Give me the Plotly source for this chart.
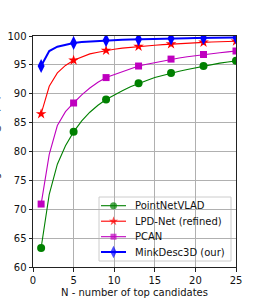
import plotly.graph_objects as go

N = list(range(1, 26))
pointnetvlad = [63.3, 72.6, 77.8, 81.0, 83.4, 85.3, 86.8, 88.0, 89.0, 89.8, 90.5, 91.2, 91.8,
                92.3, 92.8, 93.2, 93.6, 93.9, 94.2, 94.5, 94.8, 95.05, 95.3, 95.5, 95.7]
lpdnet = [86.5, 91.3, 93.6, 94.9, 95.8, 96.4, 96.9, 97.2, 97.5, 97.7, 97.9, 98.05, 98.2,
          98.3, 98.4, 98.5, 98.6, 98.7, 98.75, 98.85, 98.9, 98.95, 99.0, 99.05, 99.1]
pcan = [70.9, 79.5, 84.5, 86.9, 88.4, 89.8, 91.0, 92.0, 92.8, 93.3, 93.8, 94.3, 94.8,
        95.1, 95.4, 95.7, 96.0, 96.2, 96.4, 96.6, 96.8, 96.95, 97.1, 97.25, 97.4]
minkdesc = [94.8, 97.4, 98.15, 98.5, 98.8, 98.95, 99.05, 99.15, 99.25, 99.3, 99.35, 99.4, 99.45,
            99.5, 99.52, 99.55, 99.58, 99.6, 99.62, 99.65, 99.67, 99.7, 99.72, 99.74, 99.75]

series = [
    ("PointNetVLAD", pointnetvlad, "#008000", "circle", 8, 1.1),
    ("LPD-Net (refined)", lpdnet, "#ff0000", "star", 8, 1.1),
    ("PCAN", pcan, "#bf00bf", "square", 7, 1.1),
    ("MinkDesc3D (our)", minkdesc, "#0000ff", "diamond-tall", 10, 2.0),
]

W, H = 262, 300
ML, MR, MT, MB = 33, 26, 36, 33
PW, PH = W - ML - MR, H - MT - MB


def px_x(p):
    return (p - ML) / PW


def px_y(p):
    return (H - MB - p) / PH


fig = go.Figure()
for name, ys, col, sym, ms, lw in series:
    fig.add_trace(go.Scatter(x=N, y=ys, mode="lines", line=dict(color=col, width=lw),
                             showlegend=False, hoverinfo="skip"))
    fig.add_trace(go.Scatter(x=N[::4], y=ys[::4], mode="markers", name=name,
                             marker=dict(color=col, symbol=sym, size=ms, line=dict(width=0)),
                             showlegend=False))

# manual legend (matplotlib-like compact layout)
legend_rows = [205.7, 221.2, 236.7, 252.0]
lx0, lx1, lm, ltext = px_x(101), px_x(126), px_x(113.5), px_x(133)
fig.add_shape(type="rect", xref="paper", yref="paper",
              x0=px_x(99), x1=px_x(231), y0=px_y(261), y1=px_y(197),
              line=dict(color="#cccccc", width=1), fillcolor="rgba(255,255,255,0.8)",
              layer="between")
for (name, ys, col, sym, ms, lw), ry in zip(series, legend_rows):
    yy = px_y(ry)
    fig.add_trace(go.Scatter(x=[lx0, lm, lx1], y=[yy, yy, yy], xaxis="x2", yaxis="y2",
                             mode="lines+markers", line=dict(color=col, width=lw),
                             marker=dict(color=col, symbol=sym, size=[0, ms - 1, 0], line=dict(width=0)),
                             showlegend=False, hoverinfo="skip", cliponaxis=False))
    fig.add_annotation(text=name, xref="paper", yref="paper", x=ltext, y=yy,
                       xanchor="left", yanchor="middle", showarrow=False,
                       font=dict(size=10, color="#111111"))

axis_common = dict(showline=True, linecolor="#222222", linewidth=1, mirror=True,
                   showgrid=True, gridcolor="#b0b0b0", gridwidth=0.8,
                   ticks="outside", ticklen=3.5, tickwidth=0.8, tickcolor="#222222",
                   zeroline=False, tickfont=dict(size=10, color="#111111"), automargin=False)

fig.update_layout(
    xaxis=dict(range=[0, 25], tickvals=[0, 5, 10, 15, 20, 25],
               title=dict(text="N - number of top candidates", font=dict(size=10, color="#111111"),
                          standoff=4),
               **axis_common),
    yaxis=dict(range=[60, 100], tickvals=[60, 65, 70, 75, 80, 85, 90, 95, 100], **axis_common),
    xaxis2=dict(overlaying="x", range=[0, 1], visible=False, anchor="y2"),
    yaxis2=dict(overlaying="y", range=[0, 1], visible=False, anchor="x2"),
    width=W, height=H,
    margin=dict(l=ML, r=MR, t=MT, b=MB),
    paper_bgcolor="white", plot_bgcolor="white",
    font=dict(family="DejaVu Sans", size=10, color="#111111"),
    showlegend=False,
)

# y-axis title: in the reference it lies almost entirely beyond the left edge
fig.add_annotation(text="Average Recall@N (%)", textangle=-90, xref="paper", yref="paper",
                   x=px_x(2.5), y=0.5, xanchor="right", yanchor="middle", showarrow=False,
                   font=dict(size=10, color="#111111"))

fig.write_html("out.html", config={"displayModeBar": False},
               post_script="document.body.style.margin='0';document.body.style.overflow='hidden';")
